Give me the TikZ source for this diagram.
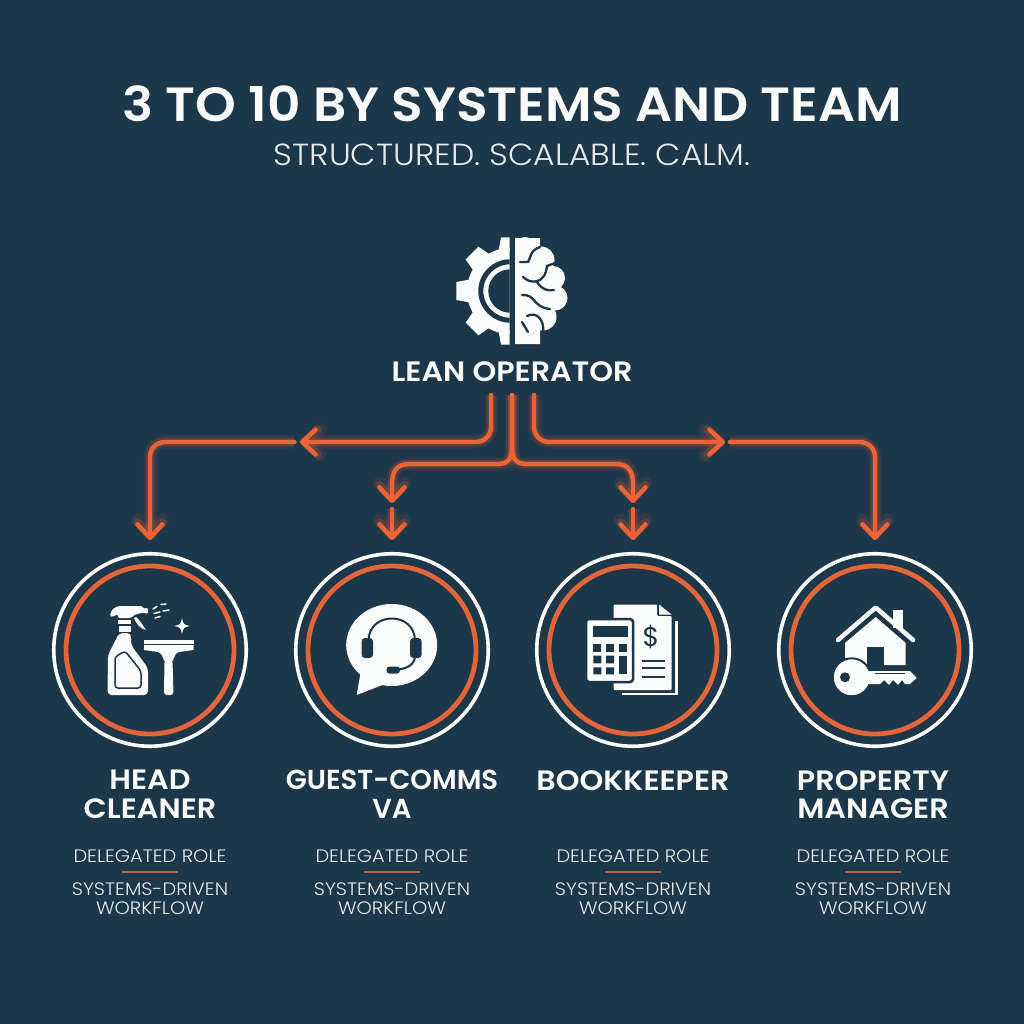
\documentclass[tikz,border=0pt]{standalone}
\usepackage{fontspec}
\setmainfont{Poppins}
\newfontfamily\fsemi{Poppins SemiBold}
\newfontfamily\fsemiw[FakeStretch=1.08]{Poppins SemiBold}
\newfontfamily\flightw[FakeStretch=1.08]{Poppins Light}
\usetikzlibrary{arrows.meta}
\definecolor{bgc}{HTML}{1C364A}
\definecolor{org}{HTML}{EC6435}
\definecolor{ring}{HTML}{E2663A}
\definecolor{wht}{HTML}{FBFCFC}
\definecolor{rulec}{HTML}{B0674F}
\tikzset{
 x=1pt,y=-1pt,
 conn/.style={draw=org,line width=4.4pt,line cap=round,line join=round,
   preaction={draw=org,line width=13pt,opacity=.10},
   preaction={draw=org,line width=8.5pt,opacity=.20}},
 round14/.style={rounded corners=15pt},
 head/.style={-{Straight Barb[length=13.5pt,width=25pt,round]}},
 outer/.style={circle,draw=wht,line width=3.6pt,minimum size=192.5pt,inner sep=0pt},
 innerc/.style={circle,draw=ring,line width=4.8pt,minimum size=168pt,inner sep=0pt},
 rolename/.style={text=wht,font=\fsemiw\fontsize{28}{28.5}\selectfont,align=center,anchor=north,inner sep=0pt},
 rolenamen/.style={rolename,font=\fsemi\fontsize{27.5}{28.5}\selectfont},
 roledesc/.style={text=wht!92!bgc,font=\flightw\fontsize{18}{19}\selectfont,align=center,anchor=north,inner sep=0pt},
 rolerule/.style={draw=rulec,line width=1.3pt},
 darkline/.style={draw=bgc,line width=2.3pt,line cap=round},
}
\begin{document}
\begin{tikzpicture}
\useasboundingbox (0,0) rectangle (1024,1024);
\fill[bgc] (0,0) rectangle (1024,1024);

% titles
\node[text=wht,font=\fsemiw\fontsize{48}{50}\selectfont,inner sep=0pt] (title) at (512,104) {3 TO 10 BY SYSTEMS AND TEAM};
\node[text=wht!92!bgc,font=\flightw\fontsize{30.5}{32}\selectfont,inner sep=0pt] (subtitle) at (512,155) {STRUCTURED. SCALABLE. CALM.};
\node[text=wht,font=\fsemiw\fontsize{28}{30}\selectfont,inner sep=0pt] (op) at (512,372) {LEAN OPERATOR};

% gear half
\begin{scope}
\clip (440,225) rectangle (509.5,355);
\fill[wht] (510,291) circle[radius=43pt];
\foreach \a in {0,45,90,135,180,225,270,315}
  \fill[wht,shift={(510,291)},rotate=\a] (40,-11.5)--(53.7,-9)--(53.7,9)--(40,11.5)--cycle;
\draw[bgc,line width=5pt] (510,291) circle[radius=29.2pt];
\fill[bgc] (510,291) circle[radius=21.7pt];
\end{scope}
% brain half
\begin{scope}
\clip (515,225) rectangle (580,355);
\fill[wht] (525,248) circle[radius=11pt] (541,260) circle[radius=13.5pt] (553,278) circle[radius=12pt]
 (555,298) circle[radius=12.5pt] (543,317) circle[radius=13.5pt] (527,333) circle[radius=11pt]
 (515,238) rectangle (540,344) (535,255) rectangle (550,325);
\end{scope}
\draw[darkline] (520,262) -- (528,262) .. controls (531,258) and (529,251) .. (540,247);
\draw[darkline] (523,277) .. controls (530,284) and (545,285) .. (547,266) -- (555,263);
\draw[darkline] (537,282) .. controls (542,290) and (548,291) .. (554,290);
\draw[darkline] (522,295) .. controls (536,294) and (532,307) .. (550,309);
\draw[darkline] (527,316) .. controls (537,311) and (545,320) .. (543,334);
\draw[darkline] (522,322) -- (528,332);

% connectors
\coordinate (s1) at (491,395);
\coordinate (s2) at (512,395);
\coordinate (s3) at (534,395);
\coordinate (a1) at (300,442);
\coordinate (a4) at (725,442);
\coordinate (g1) at (294.5,442);
\coordinate (g4) at (730,442);
\coordinate (m2) at (392,503);
\coordinate (m3) at (633,503);
\coordinate (n2) at (392,509);
\coordinate (n3) at (633,509);
\coordinate (t1) at (150,540);
\coordinate (t2) at (392,540);
\coordinate (t3) at (633,540);
\coordinate (t4) at (875,540);
\draw[conn,round14,head] (s1) |- (a1);
\draw[conn,round14,head] (s3) |- (a4);
\draw[conn,round14,head] (g1) -| (t1);
\draw[conn,round14,head] (g4) -| (t4);
\draw[conn,head] (s2) -- (512,446) .. controls (512,458) and (509,464) .. (497,464) -- (409,464) .. controls (397,464) and (392,471) .. (392,484) -- (m2);
\draw[conn,head] (s2) -- (512,446) .. controls (512,458) and (515,464) .. (527,464) -- (616,464) .. controls (628,464) and (633,471) .. (633,484) -- (m3);
\draw[conn,head] (n2) -- (t2);
\draw[conn,head] (n3) -- (t3);

% circles
\foreach \n/\x in {1/150,2/392,3/633,4/875}{
 \node[outer] (o\n) at (\x,650) {};
 \node[innerc] (i\n) at (\x,650) {};
}

% cleaner icon
\fill[wht,rounded corners=1.5pt] (110,616) .. controls (111,610) and (115,606) .. (122,606) -- (143,606) -- (143,609) -- (148,607.5) -- (148,614) -- (143,612.5) -- (134,615) -- (131,618) -- (118,618) -- (118,614) -- (112,617) -- cycle;
\fill[wht] (118,620) rectangle (131,624);
\fill[wht] (119,626) rectangle (131,632);
\fill[wht] (136,617) .. controls (140,620) and (143,626) .. (146,630) .. controls (141,629) and (136,624) .. (134,618) -- cycle;
\fill[wht,rounded corners=4pt] (119,633) -- (108,655) -- (107.5,695) -- (148,695) -- (148,668) -- (131,645) -- (131,633) -- cycle;
\draw[bgc,line width=1.5pt,rounded corners=3pt] (115,688) -- (141,688) -- (141,671) -- (125,651) -- (115,657) -- cycle;
\draw[wht,line width=1.5pt,line cap=round] (153,609) -- (157,606.5) (161,604.5) -- (166,604) (154,613.5) -- (160,612) (163,611) -- (169,610) (155,618) -- (160,616.5);
\fill[wht] (182,618) .. controls (183,624) and (184,625) .. (190,626) .. controls (184,627) and (183,628) .. (182,634) .. controls (181,628) and (180,627) .. (174,626) .. controls (180,625) and (181,624) .. (182,618) -- cycle;
\fill[wht] (144,640) rectangle (193.5,643.5);
\fill[wht] (144,645) -- (193.5,645) -- (193.5,650) -- (179,652) .. controls (176,653) and (174,656) .. (173,661) -- (164,661) .. controls (163,656) and (161,653) .. (158,652) -- (144,650) -- cycle;
\fill[wht,rounded corners=3pt] (164.5,660) -- (172.5,660) -- (173.5,695) -- (164,695) -- cycle;

% headset icon
\fill[wht] (391.7,645) ellipse[x radius=45.5pt,y radius=41pt];
\fill[wht] (361,670) -- (356.7,695) -- (385,684) -- cycle;
\draw[bgc,line width=2pt] (368.5,641) .. controls (368.5,611) and (415,611) .. (415,641);
\fill[bgc,rounded corners=3.5pt] (361.5,638) rectangle (373,658);
\fill[bgc,rounded corners=3.5pt] (410,638) rectangle (421.7,658);
\draw[bgc,line width=2pt] (415,657) .. controls (414,666) and (405,669) .. (395,670);
\fill[bgc,rounded corners=3pt] (386.5,666.5) rectangle (400,673.5);

% bookkeeper icon
\draw[wht,line width=2.2pt] (676.5,621) -- (676.5,694) -- (621.5,694);
\fill[wht,rounded corners=1pt] (613.5,604.5) -- (657,604.5) -- (657,616) -- (671.5,616) -- (671.5,690) -- (613.5,690) -- cycle;
\fill[wht] (659,604.5) -- (671.5,614.5) -- (659,614.5) -- cycle;
\fill[wht,draw=bgc,line width=2.5pt,rounded corners=3pt] (586,619) rectangle (633,682);
\fill[bgc] (593.3,626) rectangle (627.7,636.7);
\foreach \cx in {593.3,606,619.3}
  \fill[bgc] (\cx,644) rectangle ++(8,7.7);
\foreach \cx in {593.3,606}
  \fill[bgc] (\cx,655.7) rectangle ++(8,7.7) (\cx,667.3) rectangle ++(8,7);
\fill[bgc] (619.3,655.7) rectangle (627.3,674.3);
\node[text=bgc,font=\fontsize{27}{27}\selectfont,inner sep=0pt] (dollar) at (651,637) {\$};
\draw[bgc,line width=2.2pt] (641.7,660.7) -- (665,660.7) (641.7,668.3) -- (665,668.3) (641.7,676.7) -- (665,676.7);

% house & key icon
\fill[wht] (893.3,610) rectangle (902.7,628);
\draw[bgc,line width=2pt] (891,634) -- (880,624);
\draw[wht,line width=4.5pt,line cap=round,line join=round] (838,640) -- (875.7,607.5) -- (913,640);
\fill[bgc] (875.7,613) -- (843,641) -- (908,641) -- cycle;
\fill[wht] (875.7,617) -- (845,643) -- (845,665) -- (905.7,665) -- (905.7,643) -- cycle;
\fill[bgc] (866.7,646.7) rectangle (884,667);
\fill[wht,draw=bgc,line width=2pt] (851.7,677.3) circle[radius=19pt];
\fill[wht] (851.7,677.3) circle[radius=17.5pt];
\fill[wht] (864,671) -- (910,671) -- (916.7,678) -- (910,684) -- (905,684) -- (902,680) -- (898,685) -- (893,680) -- (889,685) -- (884,680) -- (880,684) -- (864,684) -- cycle;
\fill[bgc] (845,677.3) circle[radius=5pt];
\draw[bgc,line width=1.4pt] (875,673.5) -- (905,673.5);

% labels
\node[rolename] (r1) at (150,770) {HEAD\\CLEANER};
\node[rolenamen] (r2) at (392,770) {GUEST-COMMS\\VA};
\node[rolename] (r3) at (633,770) {BOOKKEEPER};
\node[rolename] (r4) at (873,770) {PROPERTY\\MANAGER};
\foreach \n/\x in {1/150,2/392,3/633,4/873}{
 \node[roledesc] (d\n) at (\x,850) {DELEGATED ROLE};
 \coordinate (la\n) at (\x-28,872);
 \coordinate (lb\n) at (\x+28,872);
 \draw[rolerule] (la\n) -- (lb\n);
 \node[roledesc] (w\n) at (\x,883) {SYSTEMS-DRIVEN\\WORKFLOW};
}
\end{tikzpicture}
\end{document}
